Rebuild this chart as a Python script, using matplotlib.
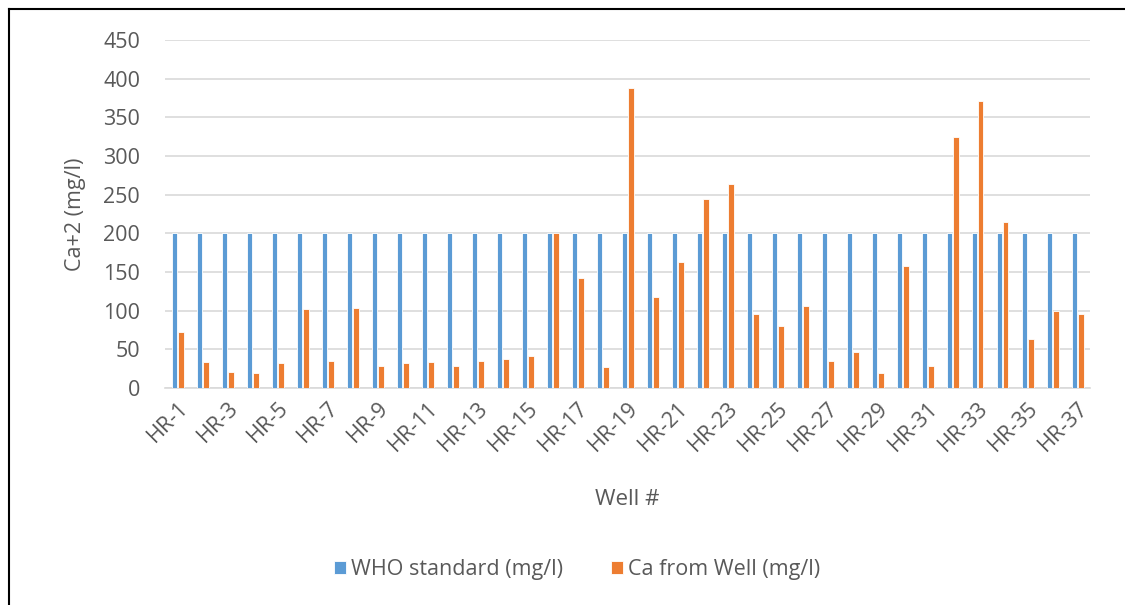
import numpy as np
import matplotlib.pyplot as plt
from matplotlib.lines import Line2D

# data
wells = [f'HR-{i}' for i in range(1, 38)]
who_standard = [200] * 37
ca_from_well = [73, 34, 21, 20, 32, 102, 35, 104, 28, 32,
                34, 28, 35, 37, 42, 200, 142, 27, 388, 118,
                163, 244, 264, 96, 80, 106, 35, 46, 20, 158,
                28, 325, 371, 215, 63, 99, 96]

blue = '#5B9BD5'
orange = '#ED7D31'
grey_text = '#595959'
font = 'Open Sans'
fs = 15.5

fig = plt.figure(figsize=(11.25, 6.05), dpi=100)
ax = fig.add_axes([165 / 1125, 1 - 388 / 605, 925 / 1125, 348 / 605])

x = np.arange(len(wells))
w = 0.23
ax.bar(x - 0.125, who_standard, width=w, color=blue, edgecolor='white', linewidth=0.6,
       label='WHO standard (mg/l)', zorder=3)
ax.bar(x + 0.125, ca_from_well, width=w, color=orange, edgecolor='white', linewidth=0.6,
       label='Ca from Well (mg/l)', zorder=3)

ax.set_xlim(-0.5, len(wells) - 0.5)
ax.set_ylim(0, 450)
ax.set_yticks(range(0, 451, 50))
ax.yaxis.grid(True, color='#D9D9D9', linewidth=1.2, zorder=0)
ax.set_axisbelow(True)
for side in ['top', 'right', 'left']:
    ax.spines[side].set_visible(False)
ax.spines['bottom'].set_color('#D9D9D9')
ax.spines['bottom'].set_linewidth(1.2)
ax.tick_params(axis='both', length=0, colors=grey_text)
ax.tick_params(axis='y', pad=18)
ax.tick_params(axis='x', pad=7)

ax.set_xticks(x[::2])
ax.set_xticklabels(wells[::2], rotation=45, ha='right', rotation_mode='anchor',
                   fontsize=fs, fontfamily=font, color=grey_text)
for lab in ax.get_yticklabels():
    lab.set_fontsize(fs)
    lab.set_fontfamily(font)

ax.set_ylabel('Ca+2 (mg/l)', fontsize=fs, fontfamily=font, color=grey_text, labelpad=12)
ax.set_xlabel('Well #', fontsize=fs + 0.5, fontfamily=font, color=grey_text, labelpad=24)

fig.legend(loc='center', bbox_to_anchor=(0.513, 1 - 570 / 605), ncol=2, frameon=False,
           handlelength=0.55, handleheight=0.55, handletextpad=0.25, columnspacing=2.2,
           prop={'family': font, 'size': fs}, labelcolor=grey_text)

# outer frame (left and top edge visible)
fig.add_artist(Line2D([9 / 1125, 9 / 1125], [0, 1 - 9 / 605], color='black', linewidth=1.5))
fig.add_artist(Line2D([9 / 1125, 1], [1 - 9 / 605, 1 - 9 / 605], color='black', linewidth=1.5))

fig.savefig('out.png', dpi=100)
